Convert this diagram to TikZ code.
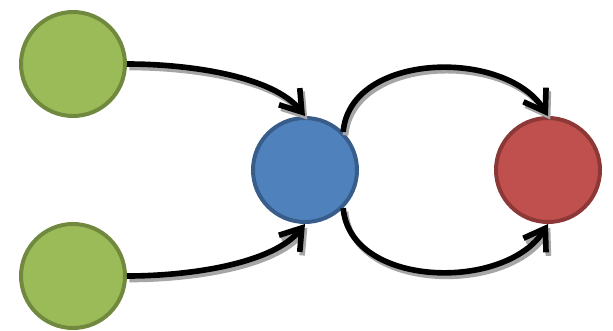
\documentclass[tikz,border=0pt]{standalone}
\usepackage{tikz}
\usetikzlibrary{arrows.meta}

\definecolor{ballgreen}{HTML}{9BBB59}
\definecolor{ballgreenline}{HTML}{71893F}
\definecolor{ballblue}{HTML}{4F81BD}
\definecolor{ballblueline}{HTML}{385D8A}
\definecolor{ballred}{HTML}{C0504D}
\definecolor{ballredline}{HTML}{8C3836}

\begin{document}
\begin{tikzpicture}[
  x=0.03cm, y=-0.03cm,
  ball/.style={circle, draw, line width=3.4pt, inner sep=0pt, minimum size=3.12cm},
  link/.style={-{Straight Barb[length=6mm,width=8mm]}, line width=4.8pt, black,
    preaction={draw=black!35, line width=4.8pt, transform canvas={xshift=2pt,yshift=-3pt}}}
]
\useasboundingbox (0,0) rectangle (613,330);

% Nodes
\node[ball, fill=ballgreen, draw=ballgreenline] (src1) at (73,64) {};
\node[ball, fill=ballgreen, draw=ballgreenline] (src2) at (73,276) {};
\node[ball, fill=ballblue, draw=ballblueline] (hub) at (305,170) {};
\node[ball, fill=ballred, draw=ballredline] (sink) at (548,170) {};

% Edges
\draw[link] (src1.east) .. controls +(62,0) and +(-32,-40) .. (hub.north);
\draw[link] (src2.east) .. controls +(62,0) and +(-32,40) .. (hub.south);
\draw[link] (hub.45) to[out=85, in=122] (sink.north);
\draw[link] (hub.-45) to[out=-85, in=238] (sink.south);

\end{tikzpicture}
\end{document}
